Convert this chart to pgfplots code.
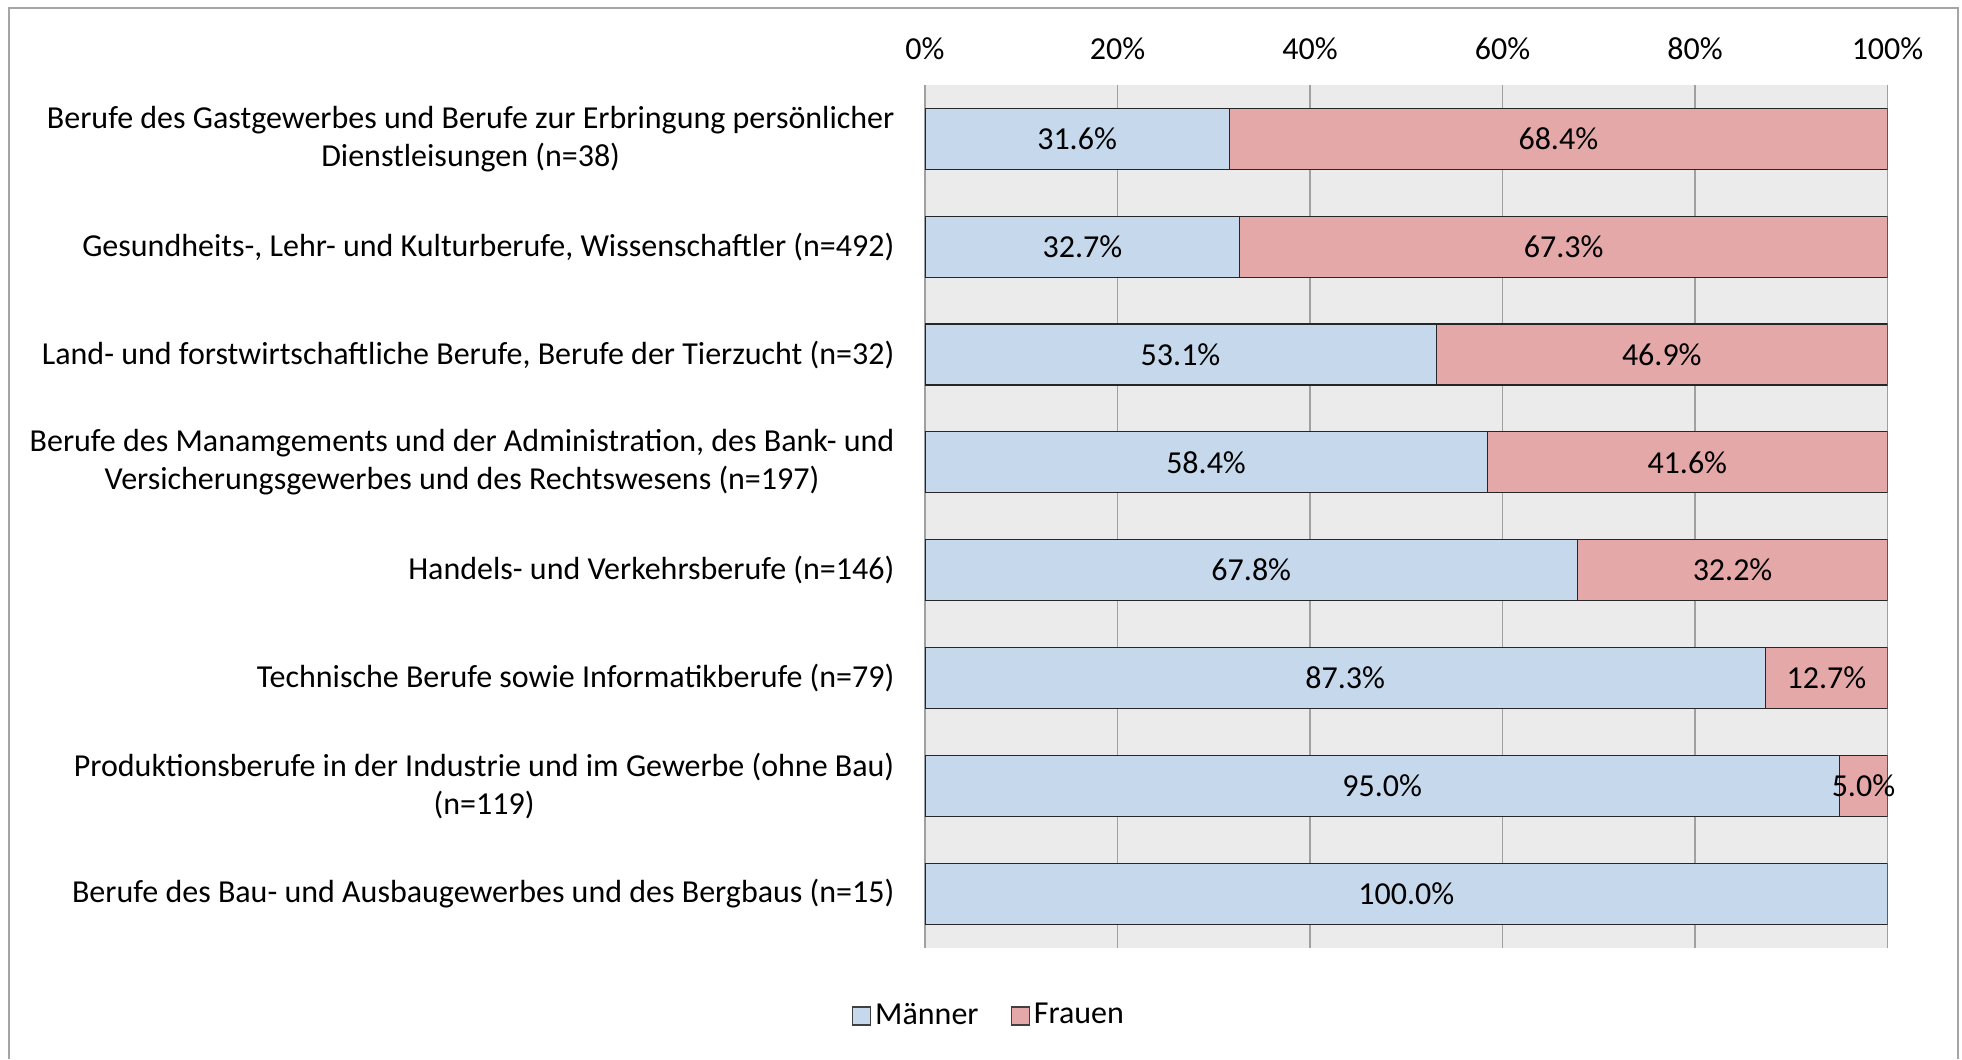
\documentclass[border=0pt]{standalone}
\usepackage{pgfplots}
\pgfplotsset{compat=1.18}
\usepackage{pgfplotstable}
\usepackage{fontspec}
\setmainfont{Carlito}
\definecolor{mblue}{RGB}{197,216,236}
\definecolor{fpink}{RGB}{227,168,167}
\definecolor{bggray}{RGB}{235,235,235}
\definecolor{gridgray}{RGB}{160,160,160}
\definecolor{framegray}{RGB}{165,165,165}
\pgfplotstableread{
y M F
0 31.6 68.4
1 32.7 67.3
2 53.1 46.9
3 58.4 41.6
4 67.8 32.2
5 87.3 12.7
6 95.0 5.0
7 100.0 0.0
}\datatable
\begin{document}
\fontsize{16}{18.75}\selectfont
\begin{tikzpicture}[x=1pt,y=1pt]
\path[use as bounding box] (0,0) rectangle (981,529.5);
\draw[framegray,line width=1pt] (4.5,0) -- (4.5,525.5) -- (979,525.5) -- (979,0);
\begin{axis}[
  at={(462.5pt,55.75pt)}, anchor=south west,
  scale only axis, width=481.25pt, height=431.25pt,
  xbar stacked,
  bar width=30.5pt,
  xmin=0, xmax=100,
  ymin=-0.5, ymax=7.5,
  y dir=reverse,
  axis background/.style={fill=bggray},
  axis line style={draw=none},
  major tick length=0pt,
  xmajorgrids, major grid style={gridgray, line width=0.6pt},
  xtick={0,20,40,60,80,100},
  xticklabel pos=upper,
  xticklabel={\pgfmathprintnumber{\tick}\%},
  xticklabel style={yshift=7pt},
  /pgf/number format/assume math mode=true,
  ytick={0,1,2,3,4,5,6,7},
  yticklabels={
    {Berufe des Gastgewerbes und Berufe zur Erbringung persönlicher\\Dienstleisungen (n=38)},
    {Gesundheits-, Lehr- und Kulturberufe, Wissenschaftler (n=492)},
    {Land- und forstwirtschaftliche Berufe, Berufe der Tierzucht (n=32)},
    {Berufe des Manamgements und der Administration, des Bank- und\\Versicherungsgewerbes und des Rechtswesens (n=197)},
    {Handels- und Verkehrsberufe (n=146)},
    {Technische Berufe sowie Informatikberufe (n=79)},
    {Produktionsberufe in der Industrie und im Gewerbe (ohne Bau)\\(n=119)},
    {Berufe des Bau- und Ausbaugewerbes und des Bergbaus (n=15)}
  },
  yticklabel style={align=center, xshift=-9.8pt},
  nodes near coords={\pgfmathfloatifflags{\pgfplotspointmeta}{0}{}{\pgfmathprintnumber[fixed,fixed zerofill,precision=1]{\pgfplotspointmeta}\%}},
  point meta=rawx,
  every node near coord/.append style={anchor=center, text=black},
  legend style={at={(axis description cs:0.0675,-0.0794)}, anchor=center, draw=none, fill=none, legend columns=2,
     /tikz/every even column/.append style={column sep=14pt}},
  legend image code/.code={\draw[#1,draw=black!75,line width=0.6pt] (0pt,-4.5pt) rectangle (9pt,4.5pt);},
]
\addplot[fill=mblue, draw=black!85, line width=0.6pt] table[x=M, y=y] {\datatable};
\addplot[fill=fpink, draw=black!85, line width=0.6pt] table[x=F, y=y] {\datatable};
\legend{Männer, Frauen}
\end{axis}
\end{tikzpicture}
\end{document}
